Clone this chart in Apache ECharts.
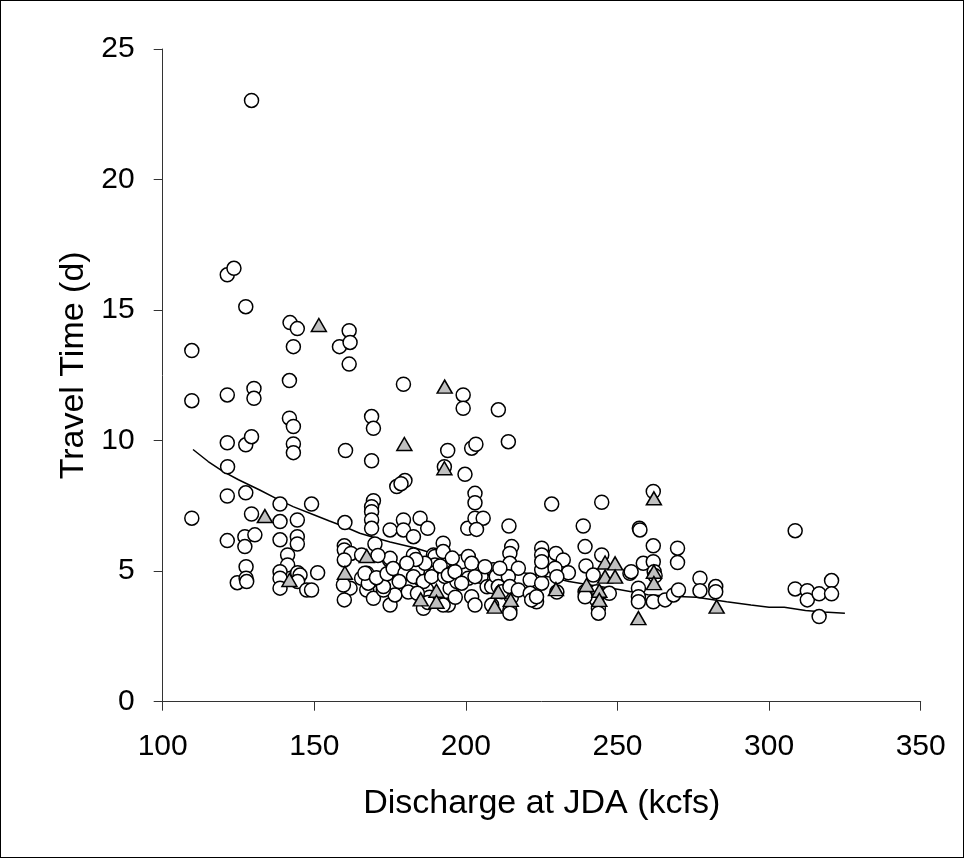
<!DOCTYPE html>
<html>
<head>
<meta charset="utf-8">
<script src="https://cdn.jsdelivr.net/npm/echarts@6/dist/echarts.min.js"></script>
<style>
html,body{margin:0;padding:0;background:#fff;}
#frame{position:absolute;left:0;top:0;width:964px;height:858px;box-sizing:border-box;border:1px solid #000;}
#chart{position:absolute;left:0;top:0;width:964px;height:858px;}
</style>
</head>
<body>
<div id="chart"></div>
<div id="frame"></div>
<script>
// Open circles: [discharge (kcfs), travel time (d)]
const circles = [
  [109.6,13.45],[109.6,11.53],[109.6,7.03],
  [121.3,16.35],[123.5,16.6],[121.3,11.75],[121.3,9.92],[121.4,9.0],[121.3,7.88],[121.3,6.17],
  [124.6,4.56],[127.4,15.13],[129.3,23.03],[127.4,9.84],[129.3,10.15],[130.1,12.0],[130.1,11.62],
  [127.4,8.0],[129.3,7.19],[127.1,6.32],[127.1,5.94],[130.4,6.39],[127.5,5.17],[127.5,4.73],[127.7,4.6],
  [142,14.52],[144.4,14.29],[143.1,13.6],[141.8,12.3],[141.8,10.86],[143.1,10.54],[143.1,9.87],[143.1,9.54],
  [138.7,7.57],[149.1,7.57],[138.7,6.9],[144.4,6.96],[138.7,6.2],[144.4,6.32],[144.4,6.04],[141.2,5.62],
  [141.2,5.24],[138.7,4.98],[138.7,4.73],[138.7,4.35],[144.5,4.94],[145.3,4.85],[144.5,4.6],[147.5,4.28],
  [149.1,4.28],[151.1,4.94],
  [158.3,13.6],[161.5,14.21],[161.8,13.76],[161.5,12.93],[160.3,9.62],[160.1,6.86],[159.9,5.97],[159.9,5.81],
  [162.1,5.68],[159.9,5.43],[161.8,4.35],[159.9,3.9],[159.6,4.47],
  [168.9,10.92],[169.5,10.47],[168.9,9.23],[169.5,7.7],[168.9,7.47],[168.9,7.28],[168.9,6.96],[168.9,6.64],
  [170,6.04],[165.6,5.62],[174.8,5.43],[175,5.49],[167.3,4.92],[168.4,4.6],[167.3,4.28],[169.5,3.96],
  [172.8,4.35],[175,3.7],[176.6,4.09],[165.6,4.73],[167.8,4.54],[172.8,4.28],[175,6.58],[177.2,8.24],
  [166.7,4.92],[172.8,4.41],[170.5,4.75],[174,4.9],[177.7,4.98],[179.9,4.6],[171,5.6],[176,5.1],
  [179.4,12.16],[179.9,8.47],[178.6,8.35],[179.4,6.96],[184.9,7.03],[179.4,6.58],[187.4,6.64],[182.7,6.32],
  [182.7,5.62],[182.7,5.2],[179.9,4.92],[189.3,5.62],[189.8,5.56],[189.8,5.24],[189.8,4.94],[186,3.58],
  [182,4.5],[185,4.7],[187,4.3],[188,4.0],[178,4.6],[184,5.0],[186.5,5.3],[181,4.2],
  [182.7,4.79],[186,4.6],[188.7,4.79],[184,4.15],[187.5,3.8],[183.5,5.45],[180.5,5.3],
  [192.5,6.07],[194,9.62],[192.9,9.0],[199.1,11.75],[199.1,11.24],[199.7,8.71],[192.5,5.75],[198.6,5.36],
  [200.8,5.56],[200.8,4.73],[195.3,4.35],[194.2,3.7],[192.5,3.7],[194.8,4.35],[200.6,6.64],[196,5.0],
  [193,4.8],[197,4.6],[191.5,5.2],[196.5,4.0],[194.2,4.85],[196.4,4.98],[198.6,4.54],[195.5,5.5],
  [201.9,9.71],[203.3,9.86],[203,7.98],[203,7.62],[203,7.03],[205.7,7.03],[203.5,6.6],[201.9,4.02],
  [203,3.7],[209,5.05],[210.7,11.18],[201.9,5.3],[205,4.8],[207,4.4],[203,4.79],[206.3,5.17],
  [208.5,4.41],[208.5,3.7],
  [214,9.96],[214.2,6.73],[215.1,5.94],[214.5,5.68],[214.5,5.3],[217.3,5.11],[213,4.6],[212,4.3],
  [215,4.0],[214.5,3.5],[210,4.8],[210.7,4.41],[211.8,4.21],[214.5,3.39],[214,4.79],[211.2,5.11],
  [214.5,4.41],[217.3,4.28],
  [221.2,4.66],[225,4.54],[225,5.05],[221.2,4.15],[223.3,3.83],[225,5.88],[225,5.62],[225,5.36],
  [221.7,3.9],[223.3,4.02],
  [228.3,7.57],[229.7,5.68],[232.1,5.43],[233.8,4.94],[229.4,5.11],[230,4.79],[230,4.2],
  [238.7,6.73],[239.3,5.94],[239.6,5.2],[244.8,7.64],[244.8,5.62],[242,4.85],[243.1,4.21],[243.1,3.9],
  [243.7,3.58],[243.7,3.39],[247.3,4.15],[239.3,4.21],[239.3,4.02],
  [257.2,6.64],[257.4,6.58],[261.8,8.05],[261.8,5.97],[254.1,4.92],[254.5,4.98],[258.5,5.3],[261.8,5.36],
  [262.1,4.98],[262.4,4.82],[256.9,4.35],[256.9,4.02],[256.9,3.83],[261.8,3.83],
  [265.7,3.9],[268.5,4.09],[270.1,4.28],[269.8,5.88],[269.8,5.33],[277.2,4.73],[277.2,4.25],[282.4,4.41],[282.4,4.21],
  [308.6,6.55],[308.6,4.32],[312.6,4.25],[312.6,3.9],[316.5,4.13],[320.6,4.64],[320.6,4.13],[316.5,3.26]
];

// Gray triangles: [discharge (kcfs), travel time (d)]
const triangles = [
  [133.7,7.11],[141.8,4.66],[151.5,14.43],[160.1,4.94],[167.3,5.58],[179.7,9.87],[185.1,3.92],
  [190.3,4.25],[190.3,3.83],[192.9,8.94],[193,12.07],[209.5,3.64],[210.7,4.21],[214.8,3.9],
  [229.7,4.31],[239.8,4.47],[244,4.25],[244,3.9],[245.9,5.33],[249.2,5.3],[245.9,4.79],[249.2,4.79],
  [256.9,3.2],[262,7.79],[262,4.98],[262,4.54],[282.7,3.64]
];

// Smoothed trend line
const trend = [
  [110,9.66],[115,9.2],[120,8.81],[125,8.5],[132,8.11],[138,7.75],[143,7.47],[150,7.15],[155,6.92],
  [160,6.7],[165,6.45],[170,6.28],[175,6.12],[183,5.9],[190,5.65],[200,5.35],[205,5.17],[212,5.05],
  [220,4.92],[227,4.79],[234,4.6],[242,4.45],[250,4.31],[260,4.1],[266,4.05],[272,4.02],[276,4.0],
  [286,3.83],[294,3.7],[300,3.62],[305,3.62],[312,3.49],[318,3.44],[325,3.39]
];

const xTitle = 'Discharge at JDA (kcfs)';
const yTitle = 'Travel Time (d)';

const FONT = '"Liberation Sans", Arial, sans-serif';
const axisColor = '#333';

const chart = echarts.init(document.getElementById('chart'), null, {renderer: 'canvas'});
chart.setOption({
  animation: false,
  backgroundColor: '#fff',
  grid: {left: 162.7, right: 43.3, top: 49, bottom: 156.3, containLabel: false},
  xAxis: {
    type: 'value', min: 100, max: 350, interval: 50,
    name: xTitle, nameLocation: 'middle', nameGap: 85,
    nameTextStyle: {fontFamily: FONT, fontSize: 34, color: '#000'},
    axisLine: {show: true, onZero: false, lineStyle: {color: axisColor, width: 1}},
    axisTick: {show: true, inside: false, length: 9, lineStyle: {color: axisColor}},
    axisLabel: {fontFamily: FONT, fontSize: 30, color: '#000', margin: 30},
    splitLine: {show: false}
  },
  yAxis: {
    type: 'value', min: 0, max: 25, interval: 5,
    name: yTitle, nameLocation: 'middle', nameGap: 70, nameRotate: 90,
    nameTextStyle: {fontFamily: FONT, fontSize: 34, color: '#000', padding: [0, 0, 0, 20]},
    axisLine: {show: true, onZero: false, lineStyle: {color: axisColor, width: 1}},
    axisTick: {show: true, inside: false, length: 9, lineStyle: {color: axisColor}},
    axisLabel: {fontFamily: FONT, fontSize: 30, color: '#000', margin: 28},
    splitLine: {show: false}
  },
  series: [
    {
      type: 'line', data: trend, showSymbol: false, smooth: false, z: 1,
      lineStyle: {color: '#000', width: 1.5}
    },
    {
      type: 'scatter', data: circles, symbol: 'circle', symbolSize: 14, z: 2,
      itemStyle: {color: '#fff', borderColor: '#000', borderWidth: 1.5, opacity: 1}
    },
    {
      type: 'scatter', data: triangles, symbol: 'triangle', symbolSize: [15, 13], z: 3,
      itemStyle: {color: '#c0c0c0', borderColor: '#000', borderWidth: 1.5, opacity: 1}
    }
  ]
});
</script>
</body>
</html>
